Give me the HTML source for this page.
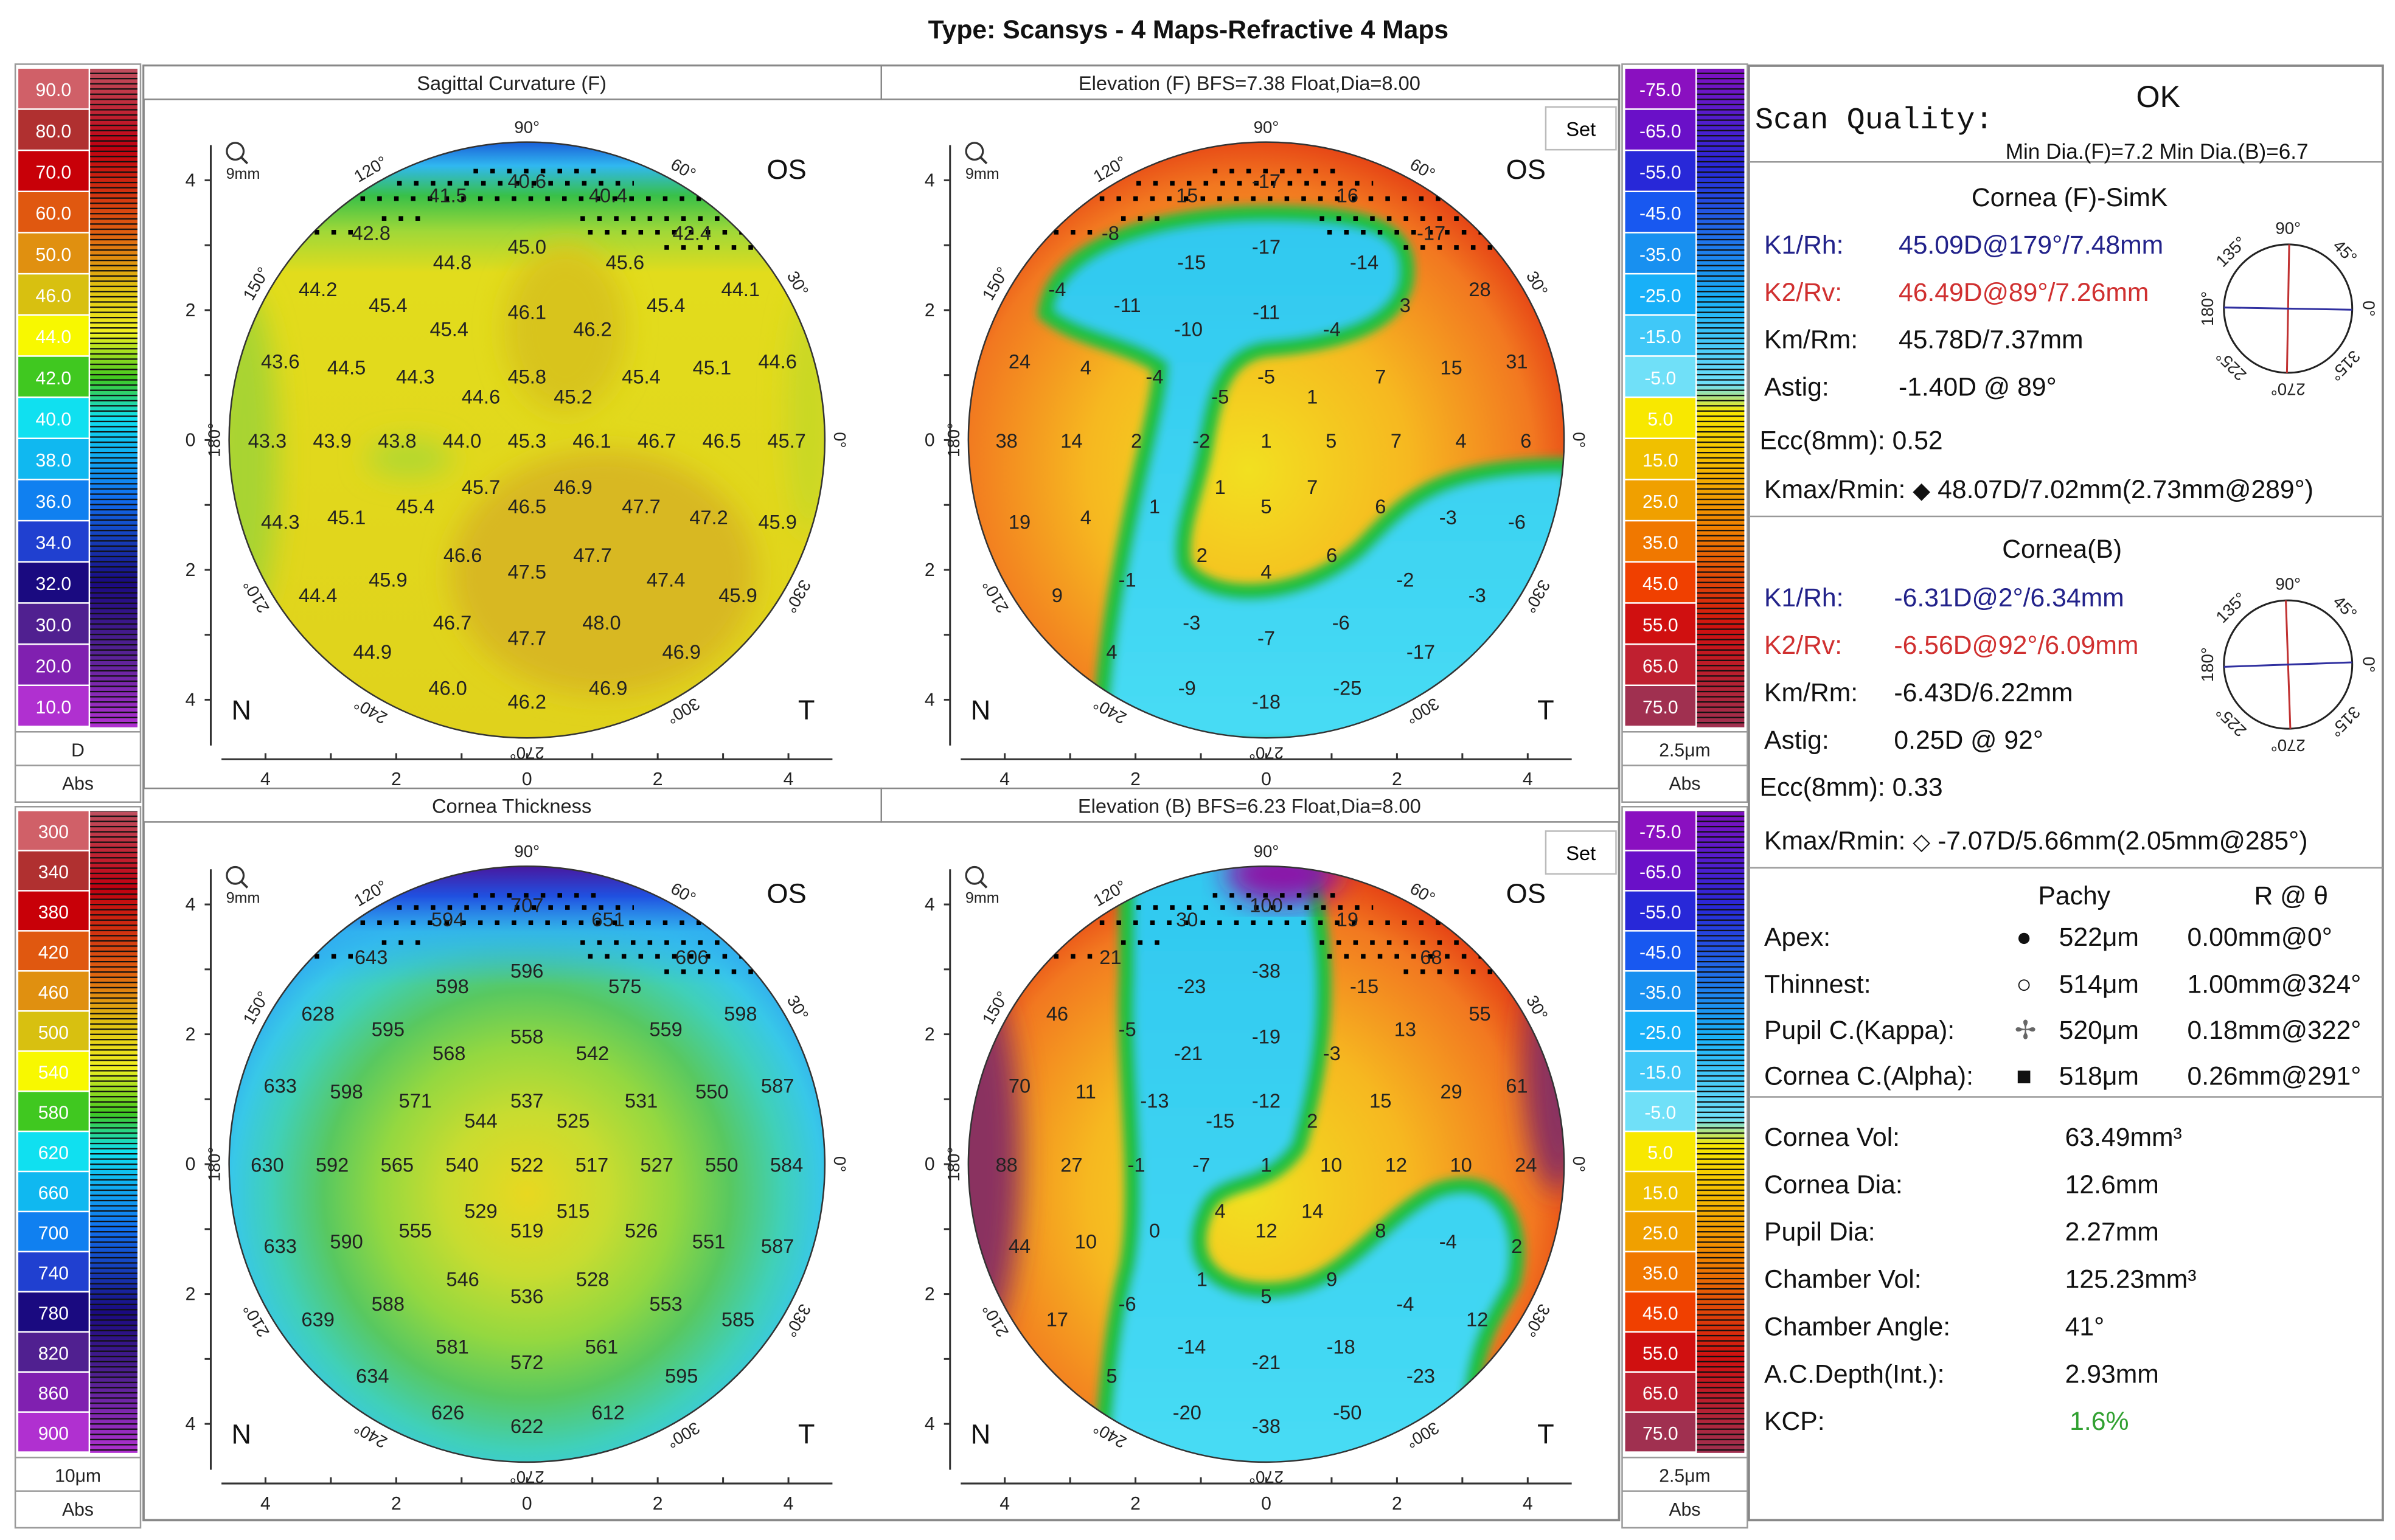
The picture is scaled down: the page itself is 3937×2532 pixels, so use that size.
<!DOCTYPE html>
<html><head><meta charset="utf-8"><style>
html,body{margin:0;padding:0;background:#fff}
svg{display:block}
text{font-family:"Liberation Sans",sans-serif}
</style></head><body>
<svg id="root" width="3937" height="2532" viewBox="0 0 1568 1008" preserveAspectRatio="none" xmlns="http://www.w3.org/2000/svg">
<defs>
  <filter id="blur" x="-20%" y="-20%" width="140%" height="140%"><feGaussianBlur stdDeviation="9"/></filter>
  <filter id="blur2" x="-20%" y="-20%" width="140%" height="140%"><feGaussianBlur stdDeviation="3"/></filter>
  <linearGradient id="sagBase" x1="0" y1="0" x2="0" y2="1">
    <stop offset="0" stop-color="#1a5fd8"/><stop offset="0.04" stop-color="#30b8f0"/>
    <stop offset="0.09" stop-color="#38c048"/><stop offset="0.15" stop-color="#a0d838"/>
    <stop offset="0.22" stop-color="#e2dc1c"/><stop offset="1" stop-color="#e0d21c"/>
  </linearGradient>
  <radialGradient id="elevBase" cx="0.47" cy="0.55" r="0.6">
    <stop offset="0" stop-color="#f2e020"/><stop offset="0.45" stop-color="#f6b820"/>
    <stop offset="0.8" stop-color="#f27820"/><stop offset="1" stop-color="#e02a10"/>
  </radialGradient>
  <radialGradient id="thickBase" cx="0.5" cy="0.55" r="0.55">
    <stop offset="0" stop-color="#e8d820"/><stop offset="0.25" stop-color="#c8dc30"/>
    <stop offset="0.45" stop-color="#94d840"/><stop offset="0.62" stop-color="#58c860"/>
    <stop offset="0.78" stop-color="#40d0b8"/><stop offset="0.9" stop-color="#38c8e8"/>
    <stop offset="1" stop-color="#30a8f0"/>
  </radialGradient>
  <linearGradient id="thickTop" x1="0" y1="0" x2="0" y2="1">
    <stop offset="0" stop-color="#4818a0"/><stop offset="0.05" stop-color="#2050e0"/>
    <stop offset="0.11" stop-color="#30b0f0" stop-opacity="0.8"/><stop offset="0.2" stop-color="#30b0f0" stop-opacity="0"/>
  </linearGradient>
  <linearGradient id="cyanFill" x1="0" y1="0" x2="0" y2="1">
    <stop offset="0" stop-color="#30c8f0"/><stop offset="1" stop-color="#48dcf4"/>
  </linearGradient>
  <linearGradient id="stripL" x1="0" y1="0" x2="0" y2="1">
    <stop offset="0" stop-color="#c05060"/><stop offset="0.12" stop-color="#c00010"/>
    <stop offset="0.25" stop-color="#e06010"/><stop offset="0.33" stop-color="#e0c010"/>
    <stop offset="0.4" stop-color="#f0f020"/><stop offset="0.47" stop-color="#40c820"/>
    <stop offset="0.53" stop-color="#10e0f0"/><stop offset="0.65" stop-color="#1070f0"/>
    <stop offset="0.78" stop-color="#1a0a80"/><stop offset="0.88" stop-color="#502090"/>
    <stop offset="1" stop-color="#b030d0"/>
  </linearGradient>
  <linearGradient id="stripR" x1="0" y1="0" x2="0" y2="1">
    <stop offset="0" stop-color="#8010c0"/><stop offset="0.15" stop-color="#2828d8"/>
    <stop offset="0.35" stop-color="#18b0f8"/><stop offset="0.48" stop-color="#70e0f8"/>
    <stop offset="0.52" stop-color="#f8e800"/><stop offset="0.7" stop-color="#f08000"/>
    <stop offset="0.85" stop-color="#d01010"/><stop offset="1" stop-color="#a03050"/>
  </linearGradient>
  <pattern id="lines" width="10" height="3.4" patternUnits="userSpaceOnUse">
    <rect width="10" height="0.9" fill="#111"/>
  </pattern>
  <clipPath id="c1"><circle cx="345" cy="288" r="195"/></clipPath>
  <clipPath id="c2"><circle cx="829" cy="288" r="195"/></clipPath>
  <clipPath id="c3"><circle cx="345" cy="762" r="195"/></clipPath>
  <clipPath id="c4"><circle cx="829" cy="762" r="195"/></clipPath>
</defs>

<text x="778" y="25" font-size="17" font-weight="bold" text-anchor="middle" fill="#111">Type: Scansys -  4 Maps-Refractive 4 Maps</text>

<rect x="94" y="43" width="966" height="952" fill="none" stroke="#888" stroke-width="1.5"/>
<g font-size="13" fill="#222" text-anchor="middle">
  <rect x="94" y="43" width="483" height="22" fill="#fff" stroke="#888"/>
  <rect x="577" y="43" width="483" height="22" fill="#fff" stroke="#888"/>
  <rect x="94" y="516" width="483" height="22" fill="#fff" stroke="#888"/>
  <rect x="577" y="516" width="483" height="22" fill="#fff" stroke="#888"/>
  <text x="335" y="59">Sagittal Curvature (F)</text>
  <text x="818" y="59">Elevation (F) BFS=7.38 Float,Dia=8.00</text>
  <text x="335" y="532">Cornea Thickness</text>
  <text x="818" y="532">Elevation (B) BFS=6.23 Float,Dia=8.00</text>
</g>

<g clip-path="url(#c1)">
  <rect x="150" y="93" width="390" height="390" fill="url(#sagBase)"/>
  <g filter="url(#blur)">
    <ellipse cx="160" cy="300" rx="22" ry="110" fill="#a8d430"/>
    <ellipse cx="530" cy="270" rx="14" ry="80" fill="#c8d828"/>
    <ellipse cx="395" cy="375" rx="100" ry="80" fill="#d8b820"/>
    <ellipse cx="370" cy="215" rx="40" ry="55" fill="#d8c41c"/>
    <ellipse cx="268" cy="300" rx="28" ry="12" fill="#b0d830"/>
  </g>
</g>
<g clip-path="url(#c2)">
  <rect x="634" y="93" width="390" height="390" fill="url(#elevBase)"/>
  <g filter="url(#blur2)">
  <path d="M685,205 C690,160 760,140 830,140 C900,140 925,150 920,185 C913,215 870,225 830,228 C800,232 795,260 790,285 C785,320 770,345 775,370 C790,395 850,395 890,360 C920,330 935,305 1030,305 L1030,490 L720,490 C722,440 728,400 738,350 C748,300 760,260 760,240 C740,225 705,222 685,205 Z" fill="url(#cyanFill)" stroke="#20c040" stroke-width="11"/>
  </g>
</g>
<g clip-path="url(#c3)">
  <rect x="150" y="567" width="390" height="390" fill="url(#thickBase)"/>
  <rect x="150" y="567" width="390" height="390" fill="url(#thickTop)"/>
</g>
<g clip-path="url(#c4)">
  <rect x="634" y="567" width="390" height="390" fill="url(#elevBase)"/>
  <g filter="url(#blur)">
    <ellipse cx="640" cy="760" rx="28" ry="120" fill="#8a3060"/>
    <ellipse cx="1020" cy="700" rx="22" ry="80" fill="#8a3060"/>
  </g>
  <g filter="url(#blur2)">
  <path d="M738,560 L855,560 C875,640 865,700 850,750 C830,780 800,770 790,790 C775,820 790,845 830,845 C880,845 900,800 940,780 C980,765 1000,800 990,840 C975,870 960,880 960,970 L720,970 C725,900 730,860 738,830 C748,780 735,700 738,640 Z" fill="url(#cyanFill)" stroke="#20c040" stroke-width="11"/>
  </g>
  <g filter="url(#blur)">
    <ellipse cx="840" cy="572" rx="38" ry="20" fill="#8a18a8"/>
  </g>
</g>

<g id="maps"></g>

<g><rect x="1012" y="70" width="46" height="28" fill="#fff" stroke="#bbb"/><text x="1035" y="89" font-size="13" text-anchor="middle">Set</text></g>
<g><rect x="1012" y="544" width="46" height="28" fill="#fff" stroke="#bbb"/><text x="1035" y="563" font-size="13" text-anchor="middle">Set</text></g>

<g id="bars"></g>

<g fill="#111">
  <rect x="1145" y="43" width="415" height="952" fill="none" stroke="#888" stroke-width="1.5"/>
  <line x1="1145" y1="106" x2="1560" y2="106" stroke="#999"/>
  <line x1="1145" y1="338" x2="1560" y2="338" stroke="#999"/>
  <line x1="1145" y1="568" x2="1560" y2="568" stroke="#999"/>
  <line x1="1145" y1="718" x2="1560" y2="718" stroke="#999"/>
  <text x="1149" y="84" font-size="20" style="font-family:'Liberation Mono',monospace">Scan Quality:</text>
  <text x="1413" y="70" font-size="20" text-anchor="middle">OK</text>
  <text x="1313" y="104" font-size="14">Min Dia.(F)=7.2  Min Dia.(B)=6.7</text>
  <g font-size="17">
  <text x="1355" y="135" text-anchor="middle">Cornea (F)-SimK</text>
  <text x="1155" y="166" fill="#22228a">K1/Rh:</text><text x="1243" y="166" fill="#22228a">45.09D@179°/7.48mm</text>
  <text x="1155" y="197" fill="#d03030">K2/Rv:</text><text x="1243" y="197" fill="#d03030">46.49D@89°/7.26mm</text>
  <text x="1155" y="228">Km/Rm:</text><text x="1243" y="228">45.78D/7.37mm</text>
  <text x="1155" y="259">Astig:</text><text x="1243" y="259">-1.40D @ 89°</text>
  <text x="1152" y="294">Ecc(8mm):  0.52</text>
  <text x="1155" y="326">Kmax/Rmin: <tspan font-size="15">◆</tspan> 48.07D/7.02mm(2.73mm@289°)</text>
  <text x="1350" y="365" text-anchor="middle">Cornea(B)</text>
  <text x="1155" y="397" fill="#22228a">K1/Rh:</text><text x="1240" y="397" fill="#22228a">-6.31D@2°/6.34mm</text>
  <text x="1155" y="428" fill="#d03030">K2/Rv:</text><text x="1240" y="428" fill="#d03030">-6.56D@92°/6.09mm</text>
  <text x="1155" y="459">Km/Rm:</text><text x="1240" y="459">-6.43D/6.22mm</text>
  <text x="1155" y="490">Astig:</text><text x="1240" y="490">0.25D @ 92°</text>
  <text x="1152" y="521">Ecc(8mm):  0.33</text>
  <text x="1155" y="556">Kmax/Rmin: <tspan font-size="15">◇</tspan> -7.07D/5.66mm(2.05mm@285°)</text>
  <text x="1358" y="592" text-anchor="middle">Pachy</text><text x="1500" y="592" text-anchor="middle">R @ θ</text>
  <text x="1155" y="619">Apex:</text><text x="1320" y="619">●</text><text x="1348" y="619">522μm</text><text x="1432" y="619">0.00mm@0°</text>
  <text x="1155" y="650">Thinnest:</text><text x="1320" y="650">○</text><text x="1348" y="650">514μm</text><text x="1432" y="650">1.00mm@324°</text>
  <text x="1155" y="680">Pupil C.(Kappa):</text><text x="1319" y="680" fill="#666">✢</text><text x="1348" y="680">520μm</text><text x="1432" y="680">0.18mm@322°</text>
  <text x="1155" y="710">Cornea C.(Alpha):</text><text x="1320" y="710">■</text><text x="1348" y="710">518μm</text><text x="1432" y="710">0.26mm@291°</text>
  <text x="1155" y="750">Cornea Vol:</text><text x="1352" y="750">63.49mm³</text>
  <text x="1155" y="781">Cornea Dia:</text><text x="1352" y="781">12.6mm</text>
  <text x="1155" y="812">Pupil Dia:</text><text x="1352" y="812">2.27mm</text>
  <text x="1155" y="843">Chamber Vol:</text><text x="1352" y="843">125.23mm³</text>
  <text x="1155" y="874">Chamber Angle:</text><text x="1352" y="874">41°</text>
  <text x="1155" y="905">A.C.Depth(Int.):</text><text x="1352" y="905">2.93mm</text>
  <text x="1155" y="936">KCP:</text><text x="1355" y="936" fill="#30a030">1.6%</text>
  </g>
</g>
<g id="dials"></g>
</svg>
<script>
const NS='http://www.w3.org/2000/svg';
const ptX=[-1.22,0,1.25,-2.4,2.54,0,-1.15,1.51,-3.22,-2.14,0,2.14,3.29,-1.2,1.01,-3.8,-2.78,-1.72,0,1.76,2.85,3.86,-0.71,0.71,-4,-3,-2,-1,0,1,2,3,4,-0.71,0.71,-3.8,-2.78,-1.72,0,1.76,2.8,3.86,-0.99,1.01,0,-2.14,2.14,-3.22,3.25,-1.15,1.15,0,-2.38,2.38,-1.22,1.25,0];
const ptY=[3.78,4.0,3.78,3.2,3.2,2.99,2.75,2.75,2.33,2.09,1.98,2.09,2.33,1.72,1.72,1.22,1.13,0.99,0.99,0.99,1.13,1.22,0.68,0.68,0,0,0,0,0,0,0,0,0,-0.71,-0.71,-1.25,-1.18,-1.01,-1.01,-1.01,-1.18,-1.25,-1.76,-1.76,-2.02,-2.14,-2.14,-2.38,-2.38,-2.8,-2.8,-3.04,-3.25,-3.25,-3.81,-3.81,-4.02];
const sagVals=[41.5,40.6,40.4,42.8,42.4,45.0,44.8,45.6,44.2,45.4,46.1,45.4,44.1,45.4,46.2,43.6,44.5,44.3,45.8,45.4,45.1,44.6,44.6,45.2,43.3,43.9,43.8,44.0,45.3,46.1,46.7,46.5,45.7,45.7,46.9,44.3,45.1,45.4,46.5,47.7,47.2,45.9,46.6,47.7,47.5,45.9,47.4,44.4,45.9,46.7,48.0,47.7,44.9,46.9,46.0,46.9,46.2];
const elevFVals=[15,-17,16,-8,-17,-17,-15,-14,-4,-11,-11,3,28,-10,-4,24,4,-4,-5,7,15,31,-5,1,38,14,2,-2,1,5,7,4,6,1,7,19,4,1,5,6,-3,-6,2,6,4,-1,-2,9,-3,-3,-6,-7,4,-17,-9,-25,-18];
const thickVals=[594,707,651,643,606,596,598,575,628,595,558,559,598,568,542,633,598,571,537,531,550,587,544,525,630,592,565,540,522,517,527,550,584,529,515,633,590,555,519,526,551,587,546,528,536,588,553,639,585,581,561,572,634,595,626,612,622];
const elevBVals=[30,100,19,21,68,-38,-23,-15,46,-5,-19,13,55,-21,-3,70,11,-13,-12,15,29,61,-15,2,88,27,-1,-7,1,10,12,10,24,4,14,44,10,0,12,8,-4,2,1,9,5,-6,-4,17,12,-14,-18,-21,5,-23,-20,-50,-38];
const tickLabels=['4','2','0','2','4'];
const tickMM=[-4,-2,0,2,4];
const angleLabels=[90,120,60,150,30,180,0,210,330,240,300,270];
const scaleLeftTop=['90.0','80.0','70.0','60.0','50.0','46.0','44.0','42.0','40.0','38.0','36.0','34.0','32.0','30.0','20.0','10.0'];
const scaleLeftBot=['300','340','380','420','460','500','540','580','620','660','700','740','780','820','860','900'];
const scaleRight=['-75.0','-65.0','-55.0','-45.0','-35.0','-25.0','-15.0','-5.0','5.0','15.0','25.0','35.0','45.0','55.0','65.0','75.0'];
const colLeft=['#d06068','#b03030','#c80008','#e05810','#e09010','#d8c010','#f8f800','#40c820','#10e0f0','#10b8f0','#1080f0','#2040d0','#1a0a80','#502090','#8020b0','#b030d0'];
const colRight=['#8a10c0','#6a10c8','#2828d8','#1858f0','#1890f0','#18b0f8','#40c8f8','#70e0f8','#f8e800','#f0c000','#f0a000','#f07800','#f04000','#d01010','#c02030','#a03050'];
const PX=42.5;
function mk(tag,attrs,parent){const e=document.createElementNS(NS,tag);for(const k in attrs)e.setAttribute(k,attrs[k]);parent.appendChild(e);return e;}
const maps=document.getElementById('maps');
let clipN=0;
function drawMap(cx,cy,vals,name){
  clipN++;
  const g=mk('g',{},maps);
  
  
  mk('circle',{cx:cx,cy:cy,r:195,fill:'none',stroke:'#333','stroke-width':1},g);
  const dg=mk('g',{'clip-path':'url(#c'+clipN+')'},g);
  
  
  const rows=[[-176,-35,45],[-168,-85,70],[-158,-120,130],[-145,-95,-65],[-145,35,130],[-136,-150,-110],[-136,40,150],[-126,90,155]];
  rows.forEach(r=>{mk('line',{x1:cx+r[1],y1:cy+r[0],x2:cx+r[2],y2:cy+r[0],stroke:'#000','stroke-width':3,'stroke-dasharray':'3 8'},dg);});
  const ax=mk('g',{stroke:'#333','stroke-width':1.2},g);
  
  
  mk('line',{x1:cx-207,y1:cy-193,x2:cx-207,y2:cy+200},ax);
  mk('line',{x1:cx-200,y1:cy+209,x2:cx+200,y2:cy+209},ax);
  [-4,-3,-2,-1,0,1,2,3,4].forEach(m=>{
    mk('line',{x1:cx-211,y1:cy-m*PX,x2:cx-207,y2:cy-m*PX},ax);
    mk('line',{x1:cx+m*PX*1.007,y1:cy+205,x2:cx+m*PX*1.007,y2:cy+209},ax);
  });
  tickMM.forEach((m,i)=>{
    const t=mk('text',{x:cx-217,y:cy-m*PX+4,'font-size':12,'text-anchor':'end',fill:'#222'},g);
    
    
    t.textContent=tickLabels[i];
    const u=mk('text',{x:cx+m*PX*1.007,y:cy+226,'font-size':12,'text-anchor':'middle',fill:'#222'},g);
    
    
    u.textContent=tickLabels[i];
  });
  angleLabels.forEach(a=>{
    const r=205,rad=a*Math.PI/180;
    const x=cx+r*Math.cos(rad),y=cy-r*Math.sin(rad);
    const t=mk('text',{x:x,y:y+4,'font-size':11,'text-anchor':'middle',fill:'#222',transform:`rotate(${90-a} ${x} ${y})`},g);
    
    
    t.textContent=a+'°';
  });
  const os=mk('text',{x:cx+170,y:cy-171,'font-size':18,'text-anchor':'middle',fill:'#111'},g);
  
  
  os.textContent='OS';
  const n=mk('text',{x:cx-187,y:cy+183,'font-size':18,'text-anchor':'middle',fill:'#111'},g);
  
  
  n.textContent='N';
  const tt=mk('text',{x:cx+183,y:cy+183,'font-size':18,'text-anchor':'middle',fill:'#111'},g);
  
  
  tt.textContent='T';
  const zg=mk('g',{},g);
  
  
  mk('circle',{cx:cx-191,cy:cy-189,r:5.5,fill:'none',stroke:'#333','stroke-width':1.3},zg);
  mk('line',{x1:cx-187,y1:cy-185,x2:cx-183,y2:cy-181,stroke:'#333','stroke-width':1.5},zg);
  const zt=mk('text',{x:cx-197,y:cy-171,'font-size':10,fill:'#222'},zg);
  zt.textContent='9mm';
  vals.forEach((v,i)=>{
    const t=mk('text',{x:cx+ptX[i]*PX,y:cy-ptY[i]*PX+5,'font-size':13,'text-anchor':'middle',fill:'#222'},g);
    
    
    t.textContent=(name==='sagittal-map')?v.toFixed(1):String(v);
  });
}
drawMap(345,288,sagVals,'sagittal-map');
drawMap(829,288,elevFVals,'elevation-front-map');
drawMap(345,762,thickVals,'thickness-map');
drawMap(829,762,elevBVals,'elevation-back-map');

const bars=document.getElementById('bars');
function drawBar(x,y0,h,labels,cols,grad,unit,name){
  const g=mk('g',{},bars);
  
  
  mk('rect',{x:x,y:y0-3,width:82,height:h+52,fill:'#fff',stroke:'#999'},g);
  const bh=h/labels.length;
  labels.forEach((l,i)=>{
    const r=mk('rect',{x:x+2,y:y0+i*bh,width:46,height:bh-1,fill:cols[i]},g);
    
    
    const t=mk('text',{x:x+25,y:y0+i*bh+bh/2+4.5,'font-size':12,'text-anchor':'middle',fill:'#fff'},g);
    
    
    t.textContent=l;
  });
  mk('rect',{x:x+49,y:y0,width:31,height:h,fill:'url(#'+grad+')'},g);
  mk('rect',{x:x+49,y:y0,width:31,height:h,fill:'url(#lines)'},g);
  mk('line',{x1:x,y1:y0+h+3,x2:x+82,y2:y0+h+3,stroke:'#999'},g);
  mk('line',{x1:x,y1:y0+h+25,x2:x+82,y2:y0+h+25,stroke:'#999'},g);
  const u=mk('text',{x:x+41,y:y0+h+19,'font-size':12,'text-anchor':'middle',fill:'#222'},g);
  
  
  u.textContent=unit;
  const a=mk('text',{x:x+41,y:y0+h+41,'font-size':12,'text-anchor':'middle',fill:'#222'},g);
  
  
  a.textContent='Abs';
}
drawBar(10,45,431,scaleLeftTop,colLeft,'stripL','D','curvature-scale');
drawBar(10,531,420,scaleLeftBot,colLeft,'stripL','10μm','thickness-scale');
drawBar(1062,45,431,scaleRight,colRight,'stripR','2.5μm','elevation-front-scale');
drawBar(1062,531,420,scaleRight,colRight,'stripR','2.5μm','elevation-back-scale');

const dials=document.getElementById('dials');
function drawDial(cx,cy,vAng,hAng,name){
  const g=mk('g',{},dials);
  
  
  mk('circle',{cx:cx,cy:cy,r:42,fill:'none',stroke:'#222','stroke-width':1.2},g);
  const vr=vAng*Math.PI/180,hr=hAng*Math.PI/180;
  mk('line',{x1:cx-42*Math.cos(vr),y1:cy+42*Math.sin(vr),x2:cx+42*Math.cos(vr),y2:cy-42*Math.sin(vr),stroke:'#c03030','stroke-width':1.2},g);
  mk('line',{x1:cx-42*Math.cos(hr),y1:cy+42*Math.sin(hr),x2:cx+42*Math.cos(hr),y2:cy-42*Math.sin(hr),stroke:'#3030a0','stroke-width':1.2},g);
  [90,135,45,180,0,225,315,270].forEach(a=>{
    const r=53,rad=a*Math.PI/180,x=cx+r*Math.cos(rad),y=cy-r*Math.sin(rad);
    const t=mk('text',{x:x,y:y+4,'font-size':11,'text-anchor':'middle',fill:'#222',transform:`rotate(${90-a} ${x} ${y})`},g);
    
    
    t.textContent=a+'°';
  });
}
drawDial(1498,202,89,179,'front-axis-dial');
drawDial(1498,435,92,2,'back-axis-dial');
</script>
</body></html>
